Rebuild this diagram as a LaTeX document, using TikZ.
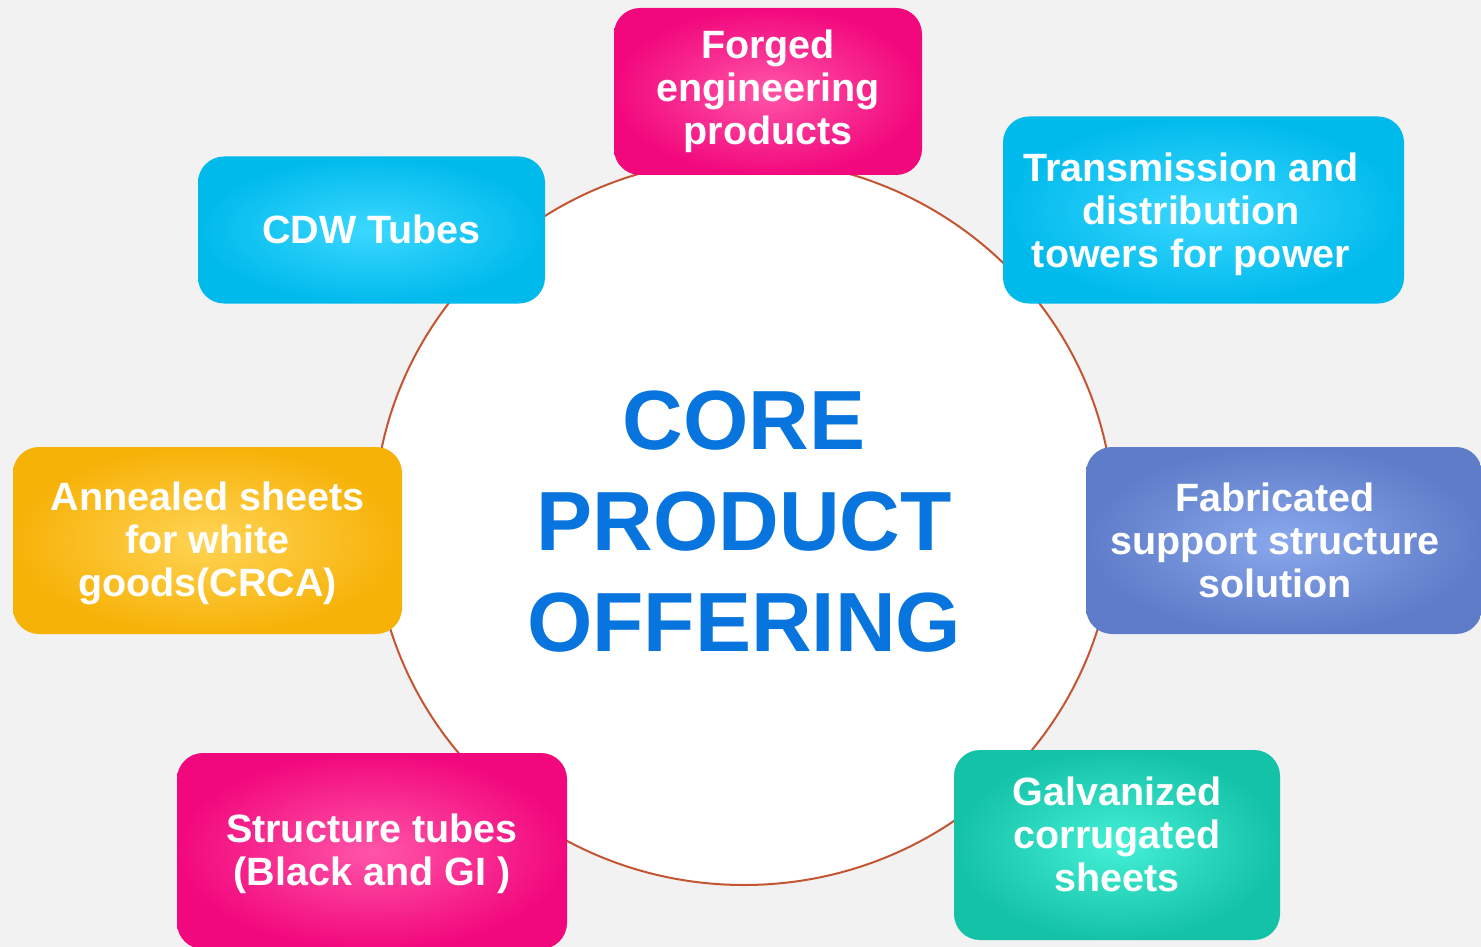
\documentclass[tikz,border=0pt]{standalone}
\usepackage{fontspec}
\setmainfont{Liberation Sans}
\usetikzlibrary{shapes.geometric, positioning}
\definecolor{bggray}{RGB}{242,242,242}
\definecolor{ringred}{RGB}{196,85,50}
\definecolor{coreblue}{RGB}{8,116,222}
\definecolor{pinkO}{RGB}{242,8,125}
\definecolor{pinkI}{RGB}{255,85,168}
\definecolor{cyanO}{RGB}{0,186,236}
\definecolor{cyanI}{RGB}{60,216,255}
\definecolor{orangeO}{RGB}{247,178,8}
\definecolor{orangeI}{RGB}{255,212,85}
\definecolor{blueO}{RGB}{94,124,200}
\definecolor{blueI}{RGB}{138,168,236}
\definecolor{tealO}{RGB}{20,194,168}
\definecolor{tealI}{RGB}{68,240,214}

\begin{document}
\begin{tikzpicture}[x=1pt, y=-1pt,
    core/.style={ellipse, draw=ringred, line width=2pt, fill=white,
        minimum width=740pt, minimum height=726pt, inner sep=0pt,
        text centered, align=center, text=coreblue,
        font=\fontsize{84}{101}\selectfont\bfseries},
    offer/.style={rectangle, draw=none, rounded corners=26pt, inner sep=0pt,
        shading=radial},
    offertext/.style={rectangle, draw=none, fill=none, inner sep=0pt,
        text centered, align=center, text=white,
        font=\fontsize{39.5}{43}\selectfont\bfseries},
    pinkbox/.style={offer, inner color=pinkI, outer color=pinkO},
    cyanbox/.style={offer, inner color=cyanI, outer color=cyanO},
    orangebox/.style={offer, inner color=orangeI, outer color=orangeO},
    bluebox/.style={offer, inner color=blueI, outer color=blueO},
    tealbox/.style={offer, inner color=tealI, outer color=tealO}
]
\useasboundingbox (0,0) rectangle (1481,947);
\fill[bggray] (0,0) rectangle (1481,947);
\clip (0,0) rectangle (1481,947);

% centre ring
\node (Core00) [core] at (744,522) {CORE\\PRODUCT\\OFFERING};

% offerings round the ring
\node (B01) [pinkbox, minimum width=308pt, minimum height=167pt] at (768,91.5) {};
\node (T01) [offertext] at (B01.center) {Forged\\engineering\\products};

\node (B02) [cyanbox, minimum width=347pt, minimum height=147pt] at (371.5,230) {};
\node (T02) [offertext] at ([yshift=1pt]B02.center) {CDW Tubes};

\node (B03) [cyanbox, minimum width=401pt, minimum height=187pt] at (1203.5,210) {};
\node (T03) [offertext] at (1191,214.5) {Transmission and\\distribution\\towers for power};

\node (B04) [orangebox, minimum width=389pt, minimum height=187pt] at (207.5,540.5) {};
\node (T04) [offertext] at (207.5,543.5) {Annealed sheets\\for white\\goods(CRCA)};

\node (B05) [bluebox, minimum width=396pt, minimum height=187pt] at (1284,540.5) {};
\node (T05) [offertext] at (1275,540.5) {Fabricated\\support structure\\solution};

\node (B06) [pinkbox, minimum width=390pt, minimum height=196pt] at (372,851) {};
\node (T06) [offertext] at (372,854) {Structure tubes\\(Black and GI )};

\node (B07) [tealbox, minimum width=326pt, minimum height=190pt] at (1117,845) {};
\node (T07) [offertext] at (1117,834.5) {Galvanized\\corrugated\\sheets};
\end{tikzpicture}
\end{document}
